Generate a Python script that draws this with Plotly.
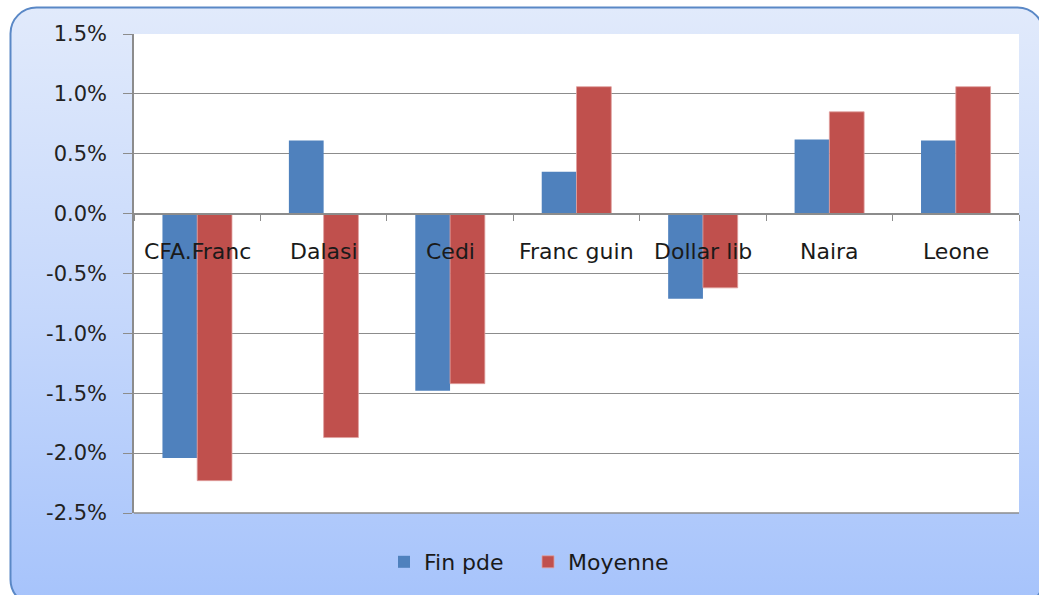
import base64
import plotly.graph_objects as go

categories = ["CFA.Franc", "Dalasi", "Cedi", "Franc guin", "Dollar lib", "Naira", "Leone"]
fin_pde = [-2.04, 0.61, -1.48, 0.35, -0.71, 0.62, 0.61]
moyenne = [-2.23, -1.87, -1.42, 1.06, -0.62, 0.85, 1.06]
y_ticks = [1.5, 1.0, 0.5, 0.0, -0.5, -1.0, -1.5, -2.0, -2.5]
y_ticklabels = ["1.5%", "1.0%", "0.5%", "0.0%", "-0.5%", "-1.0%", "-1.5%", "-2.0%", "-2.5%"]

W, H = 1039, 595
L, R, T, B = 134, 20, 34, 82
pw, ph = W - L - R, H - T - B

svg = f'''<svg xmlns="http://www.w3.org/2000/svg" width="{W}" height="{H}" viewBox="0 0 {W} {H}">
<defs><linearGradient id="g" x1="0" y1="0" x2="0" y2="1">
<stop offset="0" stop-color="#e1eafb"/><stop offset="0.5" stop-color="#c6d8fb"/><stop offset="1" stop-color="#a6c3fb"/>
</linearGradient></defs>
<rect x="10.5" y="7.5" width="1033" height="598" rx="26" ry="26" fill="url(#g)" stroke="#5a88c6" stroke-width="2"/>
<rect x="{L}" y="{T}" width="{pw}" height="{ph}" fill="#ffffff"/>
</svg>'''
src = "data:image/svg+xml;base64," + base64.b64encode(svg.encode()).decode()

font = "'DejaVu Sans', sans-serif"

fig = go.Figure()
fig.add_bar(name="Fin pde", x=categories, y=fin_pde, marker_color="#4f81bd",
            marker_line_width=0)
fig.add_bar(name="Moyenne", x=categories, y=moyenne, marker_color="#c0504d",
            marker_line_width=0.8, marker_line_color="#e0a09e")

for c in categories:
    fig.add_annotation(x=c, y=0, xref="x", yref="y", text=c, showarrow=False,
                       yanchor="middle", yshift=-38,
                       font=dict(family=font, size=22, color="#1a1a1a"))

fig.update_layout(
    width=W, height=H,
    margin=dict(l=L, r=R, t=T, b=B),
    paper_bgcolor="white", plot_bgcolor="white",
    barmode="group", bargap=0.45, bargroupgap=0,
    images=[dict(source=src, xref="paper", yref="paper",
                 x=-L / pw, y=1 + T / ph, sizex=W / pw, sizey=H / ph,
                 xanchor="left", yanchor="top", sizing="stretch", layer="below")],
    legend=dict(orientation="h", x=(384 - L) / pw, xanchor="left",
                y=(H - B - 562) / ph, yanchor="middle",
                font=dict(family=font, size=22, color="#1a1a1a"),
                bgcolor="rgba(0,0,0,0)", itemwidth=30, traceorder="normal",
                entrywidth=99),
    showlegend=True,
)
fig.update_xaxes(showticklabels=False, tickson="boundaries", ticks="outside",
                 ticklen=6, tickcolor="#8c8c8c", showline=True, linecolor="#8c8c8c",
                 anchor="free", position=2.5 / 4.0, showgrid=False, fixedrange=True)
fig.update_yaxes(range=[-2.5, 1.5], tickvals=y_ticks, ticktext=y_ticklabels,
                 ticks="outside", ticklen=9, tickcolor="#8c8c8c",
                 showline=True, linecolor="#8c8c8c", linewidth=1.5,
                 gridcolor="#8c8c8c", gridwidth=1, zeroline=False,
                 tickfont=dict(family=font, size=21, color="#222222"),
                 ticklabelstandoff=12)
fig.add_shape(type="line", xref="paper", yref="paper", x0=0, x1=1, y0=0, y1=0,
              line=dict(color="#8c8c8c", width=1.5), layer="above")
fig.add_shape(type="line", xref="paper", yref="y", x0=0, x1=1, y0=0, y1=0,
              line=dict(color="#8c8c8c", width=1.5), layer="above")

fig.write_html("out.html", config={"displayModeBar": False},
               post_script="document.body.style.margin='0';document.body.style.overflow='hidden';")
